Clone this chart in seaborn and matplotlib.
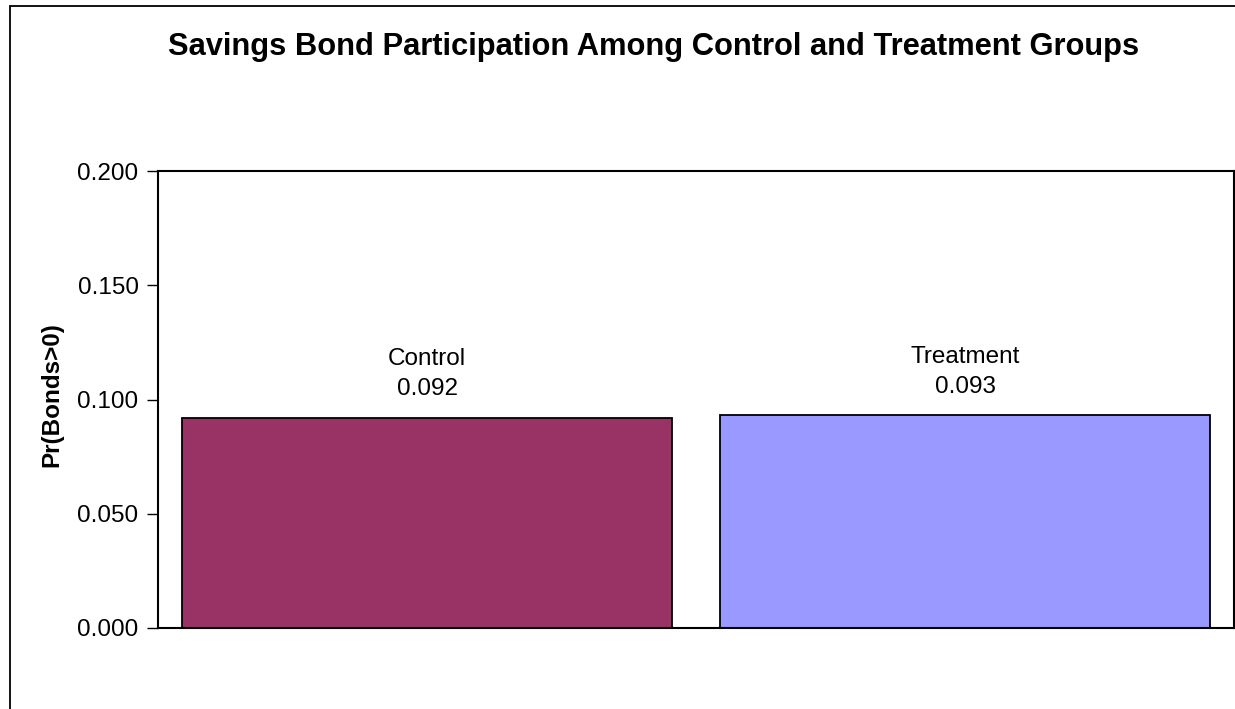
import matplotlib
matplotlib.use("Agg")
import matplotlib.pyplot as plt
from matplotlib.patches import Rectangle
from matplotlib.ticker import FormatStrFormatter
import seaborn as sns
import pandas as pd

groups = ["Control", "Treatment"]
participation = [0.092, 0.093]
bar_colors = ["#993366", "#9999FF"]
y_ticks = [0.0, 0.05, 0.10, 0.15, 0.20]

sns.set_theme(style="white")
plt.rcParams["font.family"] = ["Liberation Sans", "DejaVu Sans"]
plt.rcParams.update({"text.color": "black", "axes.labelcolor": "black",
                     "xtick.color": "black", "ytick.color": "black"})

df = pd.DataFrame({"group": groups, "share": participation})

fig = plt.figure(figsize=(12.35, 7.09), dpi=100)
ax = fig.add_axes([158 / 1235, 1 - 628 / 709, (1234 - 158) / 1235, (628 - 171) / 709])

sns.barplot(data=df, x="group", y="share", hue="group", palette=bar_colors,
            width=0.91, edgecolor="black", linewidth=1.3, legend=False, ax=ax,
            saturation=1)

ax.set_ylim(0, 0.2)
ax.set_xlim(-0.5, 1.5)
ax.set_yticks(y_ticks)
ax.yaxis.set_major_formatter(FormatStrFormatter("%.3f"))
ax.tick_params(axis="y", direction="out", length=8, width=1, color="black",
               labelsize=17.5, pad=6, left=True)
ax.tick_params(axis="x", bottom=False, labelbottom=False)
ax.set_xlabel("")
ax.set_ylabel("Pr(Bonds>0)", fontsize=17.5, fontweight="bold")
ax.yaxis.set_label_coords(-0.0875, 0.51)
ax.grid(False)
for side in ["left", "right", "top", "bottom"]:
    ax.spines[side].set_visible(True)
    ax.spines[side].set_color("black")
    ax.spines[side].set_linewidth(1.5)

for i, (name, val) in enumerate(zip(groups, participation)):
    ax.annotate(f"{name}\n{val:.3f}", xy=(i, val), xytext=(0, 12.5),
                textcoords="offset points", ha="center", va="bottom",
                fontsize=17.5, linespacing=1.48)

fig.text(654 / 1235, 1 - 47 / 709,
         "Savings Bond Participation Among Control and Treatment Groups",
         ha="center", va="center", fontsize=22.2, fontweight="bold")

# outer chart frame
fig.patches.append(Rectangle((10 / 1235, -0.1), 1.2, 1 - 6 / 709 + 0.1,
                             transform=fig.transFigure, fill=False,
                             edgecolor="black", linewidth=1.3))

fig.savefig("out.png", dpi=100, facecolor="white")
